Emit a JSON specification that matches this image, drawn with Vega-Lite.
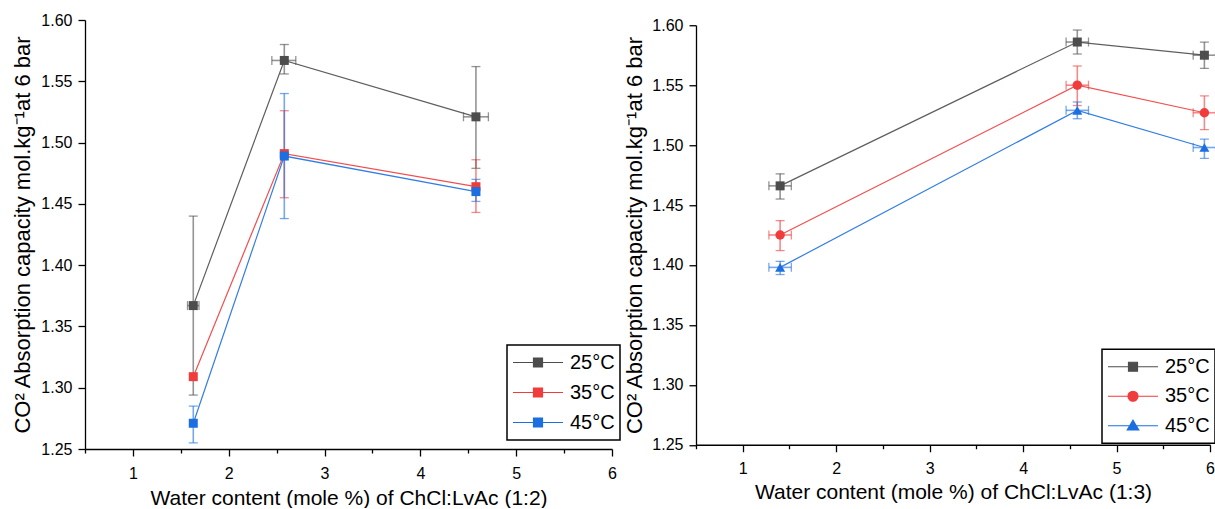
{
  "$schema": "https://vega.github.io/schema/vega-lite/v6.json",
  "background": "white",
  "padding": {"left": 11, "top": 12, "right": 0, "bottom": 0},
  "spacing": 2,
  "center": true,
  "resolve": {"scale": {"color": "independent", "x": "independent", "y": "independent"}, "legend": {"color": "independent"}},
  "config": {
    "view": {"stroke": null},
    "font": "Liberation Sans",
    "axis": {
      "grid": false,
      "domainColor": "black",
      "domainWidth": 1.3,
      "tickColor": "black",
      "tickWidth": 1.3,
      "labelColor": "black",
      "titleColor": "black",
      "labelFont": "Liberation Sans",
      "titleFont": "Liberation Sans",
      "labelFontSize": 16,
      "titleFontSize": 21,
      "titleFontWeight": "normal"
    }
  },
  "hconcat": [
    {
      "width": 527,
      "height": 429,
      "data": {"values": [
        {"s": "25°C", "x": 1.63, "y": 1.367, "lo": 1.294, "hi": 1.440, "xlo": 1.57, "xhi": 1.69},
        {"s": "25°C", "x": 2.58, "y": 1.567, "lo": 1.556, "hi": 1.580, "xlo": 2.45, "xhi": 2.70},
        {"s": "25°C", "x": 4.58, "y": 1.521, "lo": 1.479, "hi": 1.562, "xlo": 4.45, "xhi": 4.71},
        {"s": "35°C", "x": 1.63, "y": 1.309, "lo": null, "hi": null, "xlo": null, "xhi": null},
        {"s": "35°C", "x": 2.58, "y": 1.491, "lo": 1.455, "hi": 1.526, "xlo": null, "xhi": null},
        {"s": "35°C", "x": 4.58, "y": 1.464, "lo": 1.443, "hi": 1.486, "xlo": null, "xhi": null},
        {"s": "45°C", "x": 1.63, "y": 1.271, "lo": 1.255, "hi": 1.285, "xlo": null, "xhi": null},
        {"s": "45°C", "x": 2.58, "y": 1.489, "lo": 1.438, "hi": 1.540, "xlo": null, "xhi": null},
        {"s": "45°C", "x": 4.58, "y": 1.460, "lo": 1.452, "hi": 1.470, "xlo": null, "xhi": null}
      ]},
      "layer": [
        {
          "mark": {"type": "point", "shape": "square", "filled": true, "size": 81, "opacity": 0},
          "encoding": {
            "x": {"field": "x", "type": "quantitative", "title": "Water content (mole %) of ChCl:LvAc (1:2)", "scale": {"domain": [0.5, 6], "nice": false, "zero": false},
              "axis": {"title": "Water content (mole %) of ChCl:LvAc (1:2)", "values": [0.5, 1, 1.5, 2, 2.5, 3, 3.5, 4, 4.5, 5, 5.5, 6],
                "labelExpr": "datum.value % 1 === 0 ? format(datum.value, 'd') : ''",
                "tickSize": {"condition": {"test": "datum.value % 1 === 0", "value": 7}, "value": 4},
                "labelPadding": 9, "titlePadding": 6, "labelFlush": false}},
            "y": {"field": "y", "type": "quantitative", "title": "CO² Absorption capacity mol.kg⁻¹at 6 bar", "scale": {"domain": [1.25, 1.6], "nice": false, "zero": false},
              "axis": {"title": "CO² Absorption capacity mol.kg⁻¹at 6 bar", "values": [1.25, 1.275, 1.3, 1.325, 1.35, 1.375, 1.4, 1.425, 1.45, 1.475, 1.5, 1.525, 1.55, 1.575, 1.6],
                "labelExpr": "abs(datum.value * 20 - round(datum.value * 20)) < 0.001 ? format(datum.value, '.2f') : ''",
                "tickSize": {"condition": {"test": "abs(datum.value * 20 - round(datum.value * 20)) < 0.001", "value": 7}, "value": 4},
                "labelPadding": 6, "titlePadding": 6, "titleFontSize": 22, "labelFlush": false}},
            "color": {"field": "s", "type": "nominal", "scale": {"domain": ["25°C", "35°C", "45°C"], "range": ["#4d4d4d", "#f03c3c", "#1b6fe0"]},
              "legend": {
                "title": null, "orient": "none", "legendX": 422, "legendY": 325,
                "strokeColor": "black", "padding": 5,
                "labelFontSize": 20, "labelFont": "Liberation Sans", "labelColor": "black",
                "symbolSize": 2500, "symbolStrokeWidth": 1.2, "clipHeight": 25, "rowPadding": 5, "labelOffset": 6,
                "encode": {
                  "legend": {"update": {"strokeWidth": {"value": 1.5}}},
                  "symbols": {"update": {
                    "shape": {"value": "M-1,0H1M-0.18,-0.18H0.18V0.18H-0.18Z"},
                    "fill": {"signal": "datum.value === '25°C' ? '#4d4d4d' : datum.value === '35°C' ? '#f03c3c' : '#1b6fe0'"},
                    "stroke": {"signal": "datum.value === '25°C' ? '#666666' : datum.value === '35°C' ? '#f57a7a' : '#3f86ea'"},
                    "opacity": {"value": 1}
                  }}
                }
              }}
          }
        },
        {
          "mark": {"type": "errorbar", "ticks": {"size": 9, "thickness": 1.3}, "rule": {"strokeWidth": 1.6}, "opacity": 0.6},
          "encoding": {
            "x": {"field": "x", "type": "quantitative", "title": "Water content (mole %) of ChCl:LvAc (1:2)"},
            "y": {"field": "lo", "type": "quantitative", "title": "CO² Absorption capacity mol.kg⁻¹at 6 bar"},
            "y2": {"field": "hi"},
            "color": {"field": "s", "type": "nominal"}
          }
        },
        {
          "mark": {"type": "errorbar", "ticks": {"size": 9, "thickness": 1.3}, "rule": {"strokeWidth": 1.6}, "opacity": 0.6},
          "encoding": {
            "y": {"field": "y", "type": "quantitative", "title": "CO² Absorption capacity mol.kg⁻¹at 6 bar"},
            "x": {"field": "xlo", "type": "quantitative", "title": "Water content (mole %) of ChCl:LvAc (1:2)"},
            "x2": {"field": "xhi"},
            "color": {"field": "s", "type": "nominal"}
          }
        },
        {
          "mark": {"type": "line", "strokeWidth": 1.2, "opacity": 0.9},
          "encoding": {
            "x": {"field": "x", "type": "quantitative", "title": "Water content (mole %) of ChCl:LvAc (1:2)"},
            "y": {"field": "y", "type": "quantitative", "title": "CO² Absorption capacity mol.kg⁻¹at 6 bar"},
            "color": {"field": "s", "type": "nominal"}
          }
        },
        {
          "mark": {"type": "point", "shape": "square", "filled": true, "size": 81, "opacity": 1},
          "encoding": {
            "x": {"field": "x", "type": "quantitative", "title": "Water content (mole %) of ChCl:LvAc (1:2)"},
            "y": {"field": "y", "type": "quantitative", "title": "CO² Absorption capacity mol.kg⁻¹at 6 bar"},
            "color": {"field": "s", "type": "nominal"}
          }
        }
      ]
    },
    {
      "width": 514,
      "height": 419.5,
      "data": {"values": [
        {"s": "25°C", "x": 1.40, "y": 1.466, "lo": 1.455, "hi": 1.476, "xlo": 1.28, "xhi": 1.52},
        {"s": "25°C", "x": 4.58, "y": 1.586, "lo": 1.576, "hi": 1.596, "xlo": 4.46, "xhi": 4.70},
        {"s": "25°C", "x": 5.94, "y": 1.575, "lo": 1.564, "hi": 1.586, "xlo": 5.82, "xhi": 6.06},
        {"s": "35°C", "x": 1.40, "y": 1.425, "lo": 1.412, "hi": 1.437, "xlo": 1.28, "xhi": 1.52},
        {"s": "35°C", "x": 4.58, "y": 1.550, "lo": 1.533, "hi": 1.566, "xlo": 4.46, "xhi": 4.70},
        {"s": "35°C", "x": 5.94, "y": 1.527, "lo": 1.513, "hi": 1.541, "xlo": 5.82, "xhi": 6.06},
        {"s": "45°C", "x": 1.40, "y": 1.398, "lo": 1.392, "hi": 1.403, "xlo": 1.28, "xhi": 1.52},
        {"s": "45°C", "x": 4.58, "y": 1.529, "lo": 1.522, "hi": 1.536, "xlo": 4.46, "xhi": 4.70},
        {"s": "45°C", "x": 5.94, "y": 1.498, "lo": 1.489, "hi": 1.505, "xlo": 5.82, "xhi": 6.06}
      ]},
      "layer": [
        {
          "mark": {"type": "point", "shape": "square", "filled": true, "size": 81, "opacity": 0},
          "encoding": {
            "x": {"field": "x", "type": "quantitative", "title": "Water content (mole %) of ChCl:LvAc (1:3)", "scale": {"domain": [0.5, 6], "nice": false, "zero": false},
              "axis": {"title": "Water content (mole %) of ChCl:LvAc (1:3)", "values": [0.5, 1, 1.5, 2, 2.5, 3, 3.5, 4, 4.5, 5, 5.5, 6],
                "labelExpr": "datum.value % 1 === 0 ? format(datum.value, 'd') : ''",
                "tickSize": {"condition": {"test": "datum.value % 1 === 0", "value": 7}, "value": 4},
                "labelPadding": 9, "titlePadding": 5, "labelFlush": false}},
            "y": {"field": "y", "type": "quantitative", "title": "CO² Absorption capacity mol.kg⁻¹at 6 bar", "scale": {"domain": [1.25, 1.6], "nice": false, "zero": false},
              "axis": {"title": "CO² Absorption capacity mol.kg⁻¹at 6 bar", "values": [1.25, 1.275, 1.3, 1.325, 1.35, 1.375, 1.4, 1.425, 1.45, 1.475, 1.5, 1.525, 1.55, 1.575, 1.6],
                "labelExpr": "abs(datum.value * 20 - round(datum.value * 20)) < 0.001 ? format(datum.value, '.2f') : ''",
                "tickSize": {"condition": {"test": "abs(datum.value * 20 - round(datum.value * 20)) < 0.001", "value": 7}, "value": 4},
                "labelPadding": 6, "titlePadding": 5, "titleFontSize": 22, "labelFlush": false}},
            "color": {"field": "s", "type": "nominal", "scale": {"domain": ["25°C", "35°C", "45°C"], "range": ["#4d4d4d", "#f03c3c", "#1b6fe0"]},
              "legend": {
                "title": null, "orient": "none", "legendX": 406, "legendY": 324,
                "strokeColor": "black", "padding": 5,
                "labelFontSize": 20, "labelFont": "Liberation Sans", "labelColor": "black",
                "symbolSize": 2500, "symbolStrokeWidth": 1.2, "clipHeight": 25, "rowPadding": 4.5, "labelOffset": 6,
                "encode": {
                  "legend": {"update": {"strokeWidth": {"value": 1.5}}},
                  "symbols": {"update": {
                    "shape": {"signal": "datum.value === '25°C' ? 'M-1,0H1M-0.18,-0.18H0.18V0.18H-0.18Z' : datum.value === '35°C' ? 'M-1,0H1M-0.2,0A0.2,0.2,0,1,1,0.2,0A0.2,0.2,0,1,1,-0.2,0Z' : 'M-1,0H1M0,-0.22L0.23,0.17L-0.23,0.17Z'"},
                    "fill": {"signal": "datum.value === '25°C' ? '#4d4d4d' : datum.value === '35°C' ? '#f03c3c' : '#1b6fe0'"},
                    "stroke": {"signal": "datum.value === '25°C' ? '#666666' : datum.value === '35°C' ? '#f05a5a' : '#3f86ea'"},
                    "opacity": {"value": 1}
                  }}
                }
              }}
          }
        },
        {
          "mark": {"type": "errorbar", "ticks": {"size": 9, "thickness": 1.3}, "rule": {"strokeWidth": 1.6}, "opacity": 0.6},
          "encoding": {
            "x": {"field": "x", "type": "quantitative", "title": "Water content (mole %) of ChCl:LvAc (1:3)"},
            "y": {"field": "lo", "type": "quantitative", "title": "CO² Absorption capacity mol.kg⁻¹at 6 bar"},
            "y2": {"field": "hi"},
            "color": {"field": "s", "type": "nominal"}
          }
        },
        {
          "mark": {"type": "errorbar", "ticks": {"size": 9, "thickness": 1.3}, "rule": {"strokeWidth": 1.6}, "opacity": 0.6},
          "encoding": {
            "y": {"field": "y", "type": "quantitative", "title": "CO² Absorption capacity mol.kg⁻¹at 6 bar"},
            "x": {"field": "xlo", "type": "quantitative", "title": "Water content (mole %) of ChCl:LvAc (1:3)"},
            "x2": {"field": "xhi"},
            "color": {"field": "s", "type": "nominal"}
          }
        },
        {
          "mark": {"type": "line", "strokeWidth": 1.2, "opacity": 0.9},
          "encoding": {
            "x": {"field": "x", "type": "quantitative", "title": "Water content (mole %) of ChCl:LvAc (1:3)"},
            "y": {"field": "y", "type": "quantitative", "title": "CO² Absorption capacity mol.kg⁻¹at 6 bar"},
            "color": {"field": "s", "type": "nominal"}
          }
        },
        {
          "transform": [{"filter": "datum.s === '25°C'"}],
          "mark": {"type": "point", "shape": "square", "filled": true, "size": 81, "opacity": 1},
          "encoding": {
            "x": {"field": "x", "type": "quantitative", "title": "Water content (mole %) of ChCl:LvAc (1:3)"},
            "y": {"field": "y", "type": "quantitative", "title": "CO² Absorption capacity mol.kg⁻¹at 6 bar"},
            "color": {"field": "s", "type": "nominal"}
          }
        },
        {
          "transform": [{"filter": "datum.s === '35°C'"}],
          "mark": {"type": "point", "shape": "circle", "filled": true, "size": 90, "opacity": 1},
          "encoding": {
            "x": {"field": "x", "type": "quantitative", "title": "Water content (mole %) of ChCl:LvAc (1:3)"},
            "y": {"field": "y", "type": "quantitative", "title": "CO² Absorption capacity mol.kg⁻¹at 6 bar"},
            "color": {"field": "s", "type": "nominal"}
          }
        },
        {
          "transform": [{"filter": "datum.s === '45°C'"}],
          "mark": {"type": "point", "shape": "triangle-up", "filled": true, "size": 100, "opacity": 1},
          "encoding": {
            "x": {"field": "x", "type": "quantitative", "title": "Water content (mole %) of ChCl:LvAc (1:3)"},
            "y": {"field": "y", "type": "quantitative", "title": "CO² Absorption capacity mol.kg⁻¹at 6 bar"},
            "color": {"field": "s", "type": "nominal"}
          }
        }
      ]
    }
  ]
}
